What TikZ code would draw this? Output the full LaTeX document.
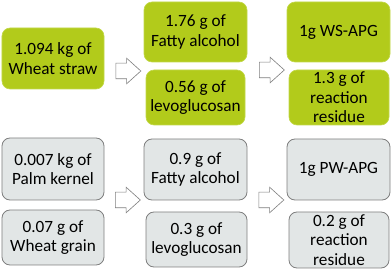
\documentclass[tikz,border=0pt]{standalone}
\usepackage{fontspec}
\setmainfont{Carlito}
\usepackage{xcolor}
\usetikzlibrary{shapes.arrows}
\definecolor{strawgreen}{HTML}{B2CB1B}
\definecolor{strawedge}{HTML}{C2D84A}
\definecolor{palmgray}{HTML}{E2E6E6}
\definecolor{palmedge}{HTML}{7F7F7F}

\begin{document}
\begin{tikzpicture}[x=1pt,y=-1pt,
  font=\fontsize{17.2}{19.5}\selectfont,
  box/.style={rectangle, rounded corners=8pt, align=center, inner sep=0pt},
  wsbox/.style={box, fill=strawgreen, draw=strawedge, line width=0.6pt},
  pwbox/.style={box, fill=palmgray, draw=palmedge, line width=0.8pt},
  blockarrow/.style={single arrow, draw=palmedge, fill=white, line width=0.6pt,
    inner sep=0pt, inner ysep=7.5pt, minimum height=25pt, minimum width=25pt,
    single arrow head extend=5pt, single arrow tip angle=84}]
  \useasboundingbox (0,0) rectangle (392,270);
  % wheat straw route
  \node[wsbox, minimum width=102pt, minimum height=61pt] (straw) at (53,58.5) {1.094 kg of\\Wheat straw};
  \node[wsbox, minimum width=103pt, minimum height=60pt] (wsfatty) at (195.5,32) {1.76 g of\\Fatty alcohol};
  \node[wsbox, minimum width=99pt, minimum height=55pt] (wslevo) at (195.5,97.5) {0.56 g of\\levoglucosan};
  \node[wsbox, minimum width=103pt, minimum height=60pt] (wsapg) at (338.5,32) {1g WS-APG};
  \node[wsbox, minimum width=100pt, minimum height=55pt] (wsres) at (339,97.5) {1.3 g of\\reaction\\residue};
  \node[blockarrow] (wsarrowa) at (124,71) {};
  \node[blockarrow] (wsarrowb) at (267.5,70) {};
  % palm kernel and wheat grain route
  \node[pwbox, minimum width=102pt, minimum height=62pt] (kernel) at (53,169) {0.007 kg of\\Palm kernel};
  \node[pwbox, minimum width=102pt, minimum height=55pt] (grain) at (53,237.5) {0.07 g of\\Wheat grain};
  \node[pwbox, minimum width=103pt, minimum height=61pt] (pwfatty) at (195.5,169.5) {0.9 g of\\Fatty alcohol};
  \node[pwbox, minimum width=101pt, minimum height=55pt] (pwlevo) at (196.5,239.5) {0.3 g of\\levoglucosan};
  \node[pwbox, minimum width=103pt, minimum height=61pt] (pwapg) at (338.5,169.5) {1g PW-APG};
  \node[pwbox, minimum width=100pt, minimum height=56pt] (pwres) at (339,240) {0.2 g of\\reaction\\residue};
  \node[blockarrow] (pwarrowa) at (123.5,200) {};
  \node[blockarrow] (pwarrowb) at (267,200) {};
\end{tikzpicture}
\end{document}
